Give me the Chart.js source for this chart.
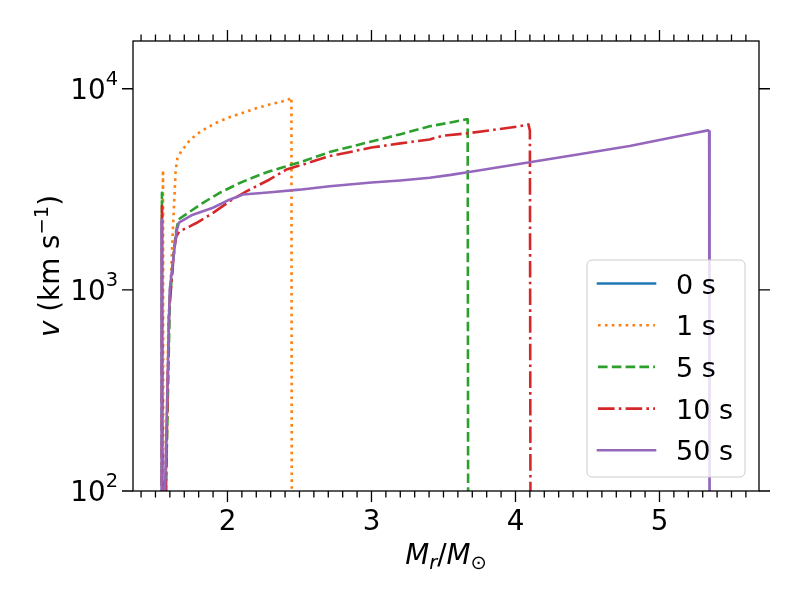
<!DOCTYPE html>
<html>
<head>
<meta charset="utf-8">
<title>v profile</title>
<script src="https://cdn.jsdelivr.net/npm/chart.js@4.4.1/dist/chart.umd.min.js"></script>
<style>
  html, body { margin: 0; padding: 0; background: #fff; }
  #wrap { width: 800px; height: 600px; }
</style>
</head>
<body>
<div id="wrap"><canvas id="chart-velocity" width="800" height="600"></canvas></div>
<script>
// data: mass coordinate (Mr/Msun) and velocity (km/s)
const labels = ['0 s', '1 s', '5 s', '10 s', '50 s'];

const m0 = [1.566, 1.572];
const v0 = [40, 115];

const m1 = [1.550, 1.552, 1.555, 1.566, 1.575, 1.59, 1.61, 1.625, 1.64, 1.652, 1.68, 1.73, 1.784, 1.85, 1.923, 2.01, 2.108, 2.2, 2.293, 2.36, 2.42, 2.444, 2.447];
const v1 = [30, 3950, 30, 30, 150, 700, 1300, 2300, 3900, 4500, 4900, 5450, 5930, 6350, 6780, 7200, 7600, 8000, 8350, 8580, 8790, 9070, 30];

const m2 = [1.543, 1.545, 1.548, 1.565, 1.575, 1.6, 1.64, 1.66, 1.726, 1.83, 1.946, 2.085, 2.2, 2.293, 2.41, 2.525, 2.71, 2.78, 3.0, 3.196, 3.404, 3.55, 3.659, 3.668, 3.672];
const v2 = [30, 3040, 30, 30, 120, 900, 1900, 2240, 2415, 2710, 3040, 3400, 3675, 3890, 4120, 4365, 4845, 4990, 5470, 5930, 6510, 6800, 7050, 7050, 30];

const m3 = [1.543, 1.545, 1.548, 1.566, 1.572, 1.594, 1.63, 1.645, 1.665, 1.726, 1.784, 1.9, 2.015, 2.131, 2.293, 2.41, 2.525, 2.71, 3.0, 3.2, 3.404, 3.5, 3.659, 3.85, 4.029, 4.09, 4.1, 4.105];
const v3 = [30, 2610, 30, 30, 100, 767, 1600, 1845, 1950, 2050, 2150, 2415, 2760, 3090, 3540, 3970, 4200, 4625, 5100, 5350, 5600, 5850, 6000, 6250, 6510, 6650, 6200, 30];

const m4 = [1.539, 1.541, 1.544, 1.562, 1.566, 1.599, 1.645, 1.663, 1.75, 1.899, 2.0, 2.108, 2.3, 2.5, 2.71, 3.0, 3.2, 3.404, 3.55, 3.7, 4.098, 4.4, 4.793, 5.0, 5.2, 5.337, 5.345, 5.348];
const v4 = [30, 2240, 30, 30, 99, 1002, 1928, 2163, 2350, 2560, 2780, 2980, 3060, 3150, 3275, 3420, 3500, 3610, 3730, 3880, 4316, 4670, 5189, 5560, 5940, 6209, 6150, 30];

// axis ticks
const xTicks = [2, 3, 4, 5];
const yTicks = [100, 1000, 10000];

// styles (matplotlib tab10 + line styles)
const colors = ['#1f77b4', '#ff7f0e', '#2ca02c', '#d62728', '#9467bd'];
const dashes = [[], [2.6, 4.3], [9.6, 4.2], [16.6, 4.2, 2.6, 4.2], []];
const lineW = 2.6;
const FS = 27.8;

const F = (size, style) => (style ? style + ' ' : '') + size + 'px "DejaVu Sans"';

function toPoints(ms, vs) {
  return ms.map((m, i) => ({ x: m, y: vs[i] }));
}

const series = [[m0, v0], [m1, v1], [m2, v2], [m3, v3], [m4, v4]];

//============ frame, ticks, axis titles and legend
const decorations = {
  id: 'decorations',
  afterDatasetsDraw(chart) {
    const ctx = chart.ctx;
    const a = chart.chartArea;
    const sx = chart.scales.x;
    const sy = chart.scales.y;
    ctx.save();
    ctx.strokeStyle = '#000';
    ctx.fillStyle = '#000';
    ctx.lineWidth = 1.3;
    ctx.strokeRect(a.left, a.top, a.right - a.left, a.bottom - a.top);

    const major = 11, minor = 6.5;
    ctx.beginPath();
    // minor x ticks every 0.1
    for (let k = 10; k <= 60; k++) {
      const v = k / 10;
      if (v < sx.min || v > sx.max || k % 10 === 0) continue;
      const px = sx.getPixelForValue(v);
      ctx.moveTo(px, a.bottom); ctx.lineTo(px, a.bottom + minor);
      ctx.moveTo(px, a.top); ctx.lineTo(px, a.top - minor);
    }
    xTicks.forEach(v => {
      const px = sx.getPixelForValue(v);
      ctx.moveTo(px, a.bottom); ctx.lineTo(px, a.bottom + major);
      ctx.moveTo(px, a.top); ctx.lineTo(px, a.top - major);
    });
    yTicks.forEach(v => {
      const py = sy.getPixelForValue(v);
      ctx.moveTo(a.left, py); ctx.lineTo(a.left - major, py);
      ctx.moveTo(a.right, py); ctx.lineTo(a.right + major, py);
    });
    ctx.stroke();

    // x tick labels
    ctx.font = F(FS);
    ctx.textAlign = 'center';
    ctx.textBaseline = 'alphabetic';
    xTicks.forEach(v => {
      ctx.fillText(String(v), sx.getPixelForValue(v), a.bottom + 39);
    });

    // y tick labels 10^n
    ctx.textAlign = 'left';
    yTicks.forEach(v => {
      const py = sy.getPixelForValue(v);
      const ex = String(Math.round(Math.log10(v)));
      ctx.font = F(FS * 0.7);
      const we = ctx.measureText(ex).width;
      ctx.font = F(FS);
      const wb = ctx.measureText('10').width;
      const xr = a.left - major - 4;
      ctx.fillText('10', xr - we - wb, py + 10);
      ctx.font = F(FS * 0.7);
      ctx.fillText(ex, xr - we, py - 4);
    });

    // x title: Mr/M_sun
    const xt = [
      { t: 'M', f: F(FS, 'italic'), dy: 0 },
      { t: 'r', f: F(FS * 0.7, 'italic'), dy: 5 },
      { t: '/', f: F(FS), dy: 0 },
      { t: 'M', f: F(FS, 'italic'), dy: 0 },
      { t: '\u2299', f: F(FS * 0.7), dy: 5 }
    ];
    drawParts(ctx, xt, (a.left + a.right) / 2, 564, 0);

    // y title: v (km s^-1)
    const yt = [
      { t: 'v', f: F(FS, 'italic'), dy: 0 },
      { t: ' (km s', f: F(FS), dy: 0 },
      { t: '\u22121', f: F(FS * 0.7), dy: -11 },
      { t: ')', f: F(FS), dy: 0 }
    ];
    drawParts(ctx, yt, 59, (a.top + a.bottom) / 2, -Math.PI / 2);
    ctx.restore();
  },
  afterDraw(chart) {
    // legend box, upper left corner near (587, 260)
    const ctx = chart.ctx;
    const x0 = 587, y0 = 260, w = 158, h = 217, r = 5;
    ctx.save();
    ctx.beginPath();
    ctx.roundRect(x0, y0, w, h, r);
    ctx.fillStyle = 'rgba(255,255,255,0.8)';
    ctx.fill();
    ctx.strokeStyle = '#cccccc';
    ctx.lineWidth = 1;
    ctx.stroke();
    chart.data.datasets.forEach((ds, i) => {
      const yy = y0 + 23.5 + i * 41.7;
      ctx.beginPath();
      ctx.setLineDash(ds.borderDash);
      ctx.lineCap = ds.borderDash.length ? 'butt' : 'square';
      ctx.strokeStyle = ds.borderColor;
      ctx.lineWidth = ds.borderWidth;
      ctx.moveTo(x0 + 11, yy);
      ctx.lineTo(x0 + 68, yy);
      ctx.stroke();
      ctx.setLineDash([]);
      ctx.fillStyle = '#000';
      ctx.font = F(27);
      ctx.textAlign = 'left';
      ctx.textBaseline = 'alphabetic';
      ctx.fillText(ds.label, x0 + 89, yy + 10);
    });
    ctx.restore();
  }
};

function drawParts(ctx, parts, cx, cy, rot) {
  let total = 0;
  parts.forEach(p => { ctx.font = p.f; p.w = ctx.measureText(p.t).width; total += p.w; });
  ctx.save();
  ctx.translate(cx, cy);
  ctx.rotate(rot);
  ctx.textAlign = 'left';
  ctx.textBaseline = 'alphabetic';
  let x = -total / 2;
  parts.forEach(p => {
    ctx.font = p.f;
    ctx.fillText(p.t, x, p.dy);
    x += p.w;
  });
  ctx.restore();
}

const ctx = document.getElementById('chart-velocity').getContext('2d');
const chartVelocity = new Chart(ctx, {
  type: 'line',
  data: {
    datasets: series.map((s, i) => ({
      label: labels[i],
      data: toPoints(s[0], s[1]),
      borderColor: colors[i],
      backgroundColor: colors[i],
      borderWidth: lineW,
      borderDash: dashes[i],
      borderCapStyle: dashes[i].length ? 'butt' : 'square',
      borderJoinStyle: 'round',
      pointRadius: 0,
      tension: 0,
      fill: false,
      clip: 0,
      order: 5 - i
    }))
  },
  options: {
    responsive: false,
    animation: false,
    devicePixelRatio: 1,
    layout: { padding: { left: 133, top: 41, right: 41, bottom: 109 } },
    scales: {
      x: { type: 'linear', min: 1.344, max: 5.691, display: false },
      y: { type: 'logarithmic', min: 100, max: 17280, display: false }
    },
    plugins: {
      legend: { display: false },
      tooltip: { enabled: false }
    }
  },
  plugins: [decorations]
});
</script>
</body>
</html>
